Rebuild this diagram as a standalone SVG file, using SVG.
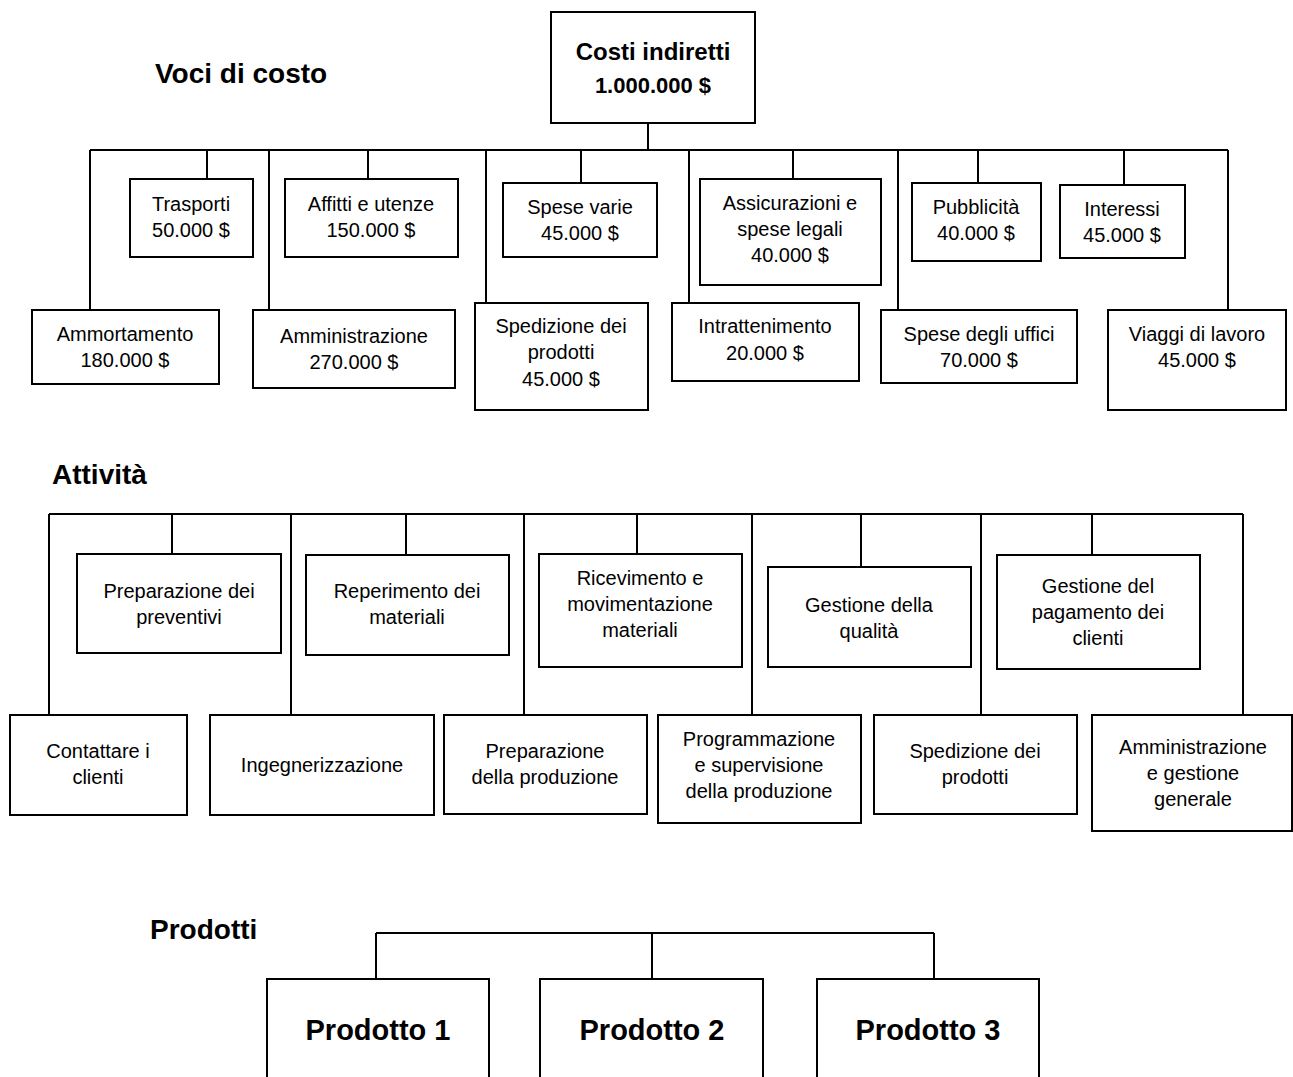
<svg xmlns="http://www.w3.org/2000/svg" width="1293" height="1077" viewBox="0 0 1293 1077">
<style>
.bg{fill:#fff}
.box{fill:#fff;stroke:#000;stroke-width:2}
.ln{fill:none;stroke:#000;stroke-width:2}
text{font-family:"Liberation Sans",Arial,sans-serif;fill:#000}
.t{font-size:20px;text-anchor:middle}
.h{font-size:28px;font-weight:bold}
.b{font-weight:bold;text-anchor:middle}
</style>
<rect class="bg" x="0" y="0" width="1293" height="1077"/>
<g id="connectors">
<path class="ln" d="M648 123V150M90 150H1228M90 150V310M207 150V179M269 150V310M368 150V179M486 150V303M581 150V183M689 150V303M793 150V179M898 150V310M978 150V183M1124 150V185M1228 150V310"/>
<path class="ln" d="M49 514H1243M49 514V715M172 514V554M291 514V715M406 514V555M524 514V715M637 514V554M752 514V715M861 514V567M981 514V715M1092 514V555M1243 514V715"/>
<path class="ln" d="M376 933H934M376 933V979M652 933V979M934 933V979"/>
</g>
<g id="titles">
<text class="h" x="155" y="83">Voci di costo</text>
<text class="h" x="52" y="484" font-size="30">Attività</text>
<text class="h" x="150" y="939" font-size="29">Prodotti</text>
</g>
<g id="costi-indiretti"><rect class="box" x="551" y="12" width="204" height="111"/><text class="b" x="653" y="60" font-size="24">Costi indiretti</text><text class="b" x="653" y="93" font-size="22">1.000.000 $</text></g>
<g id="trasporti"><rect class="box" x="130" y="179" width="123" height="78"/><text class="t" x="191" y="211">Trasporti</text><text class="t" x="191" y="237">50.000 $</text></g>
<g id="affitti"><rect class="box" x="285" y="179" width="173" height="78"/><text class="t" x="371" y="211">Affitti e utenze</text><text class="t" x="371" y="237">150.000 $</text></g>
<g id="spese-varie"><rect class="box" x="503" y="183" width="154" height="74"/><text class="t" x="580" y="214">Spese varie</text><text class="t" x="580" y="240">45.000 $</text></g>
<g id="assicurazioni"><rect class="box" x="700" y="179" width="181" height="106"/><text class="t" x="790" y="210">Assicurazioni e</text><text class="t" x="790" y="236">spese legali</text><text class="t" x="790" y="262">40.000 $</text></g>
<g id="pubblicita"><rect class="box" x="912" y="183" width="129" height="78"/><text class="t" x="976" y="214">Pubblicità</text><text class="t" x="976" y="240">40.000 $</text></g>
<g id="interessi"><rect class="box" x="1060" y="185" width="125" height="73"/><text class="t" x="1122" y="216">Interessi</text><text class="t" x="1122" y="242">45.000 $</text></g>
<g id="ammortamento"><rect class="box" x="32" y="310" width="187" height="74"/><text class="t" x="125" y="341">Ammortamento</text><text class="t" x="125" y="367">180.000 $</text></g>
<g id="amministrazione-costo"><rect class="box" x="253" y="310" width="202" height="78"/><text class="t" x="354" y="343">Amministrazione</text><text class="t" x="354" y="369">270.000 $</text></g>
<g id="spedizione-costo"><rect class="box" x="475" y="303" width="173" height="107"/><text class="t" x="561" y="333">Spedizione dei</text><text class="t" x="561" y="359">prodotti</text><text class="t" x="561" y="386">45.000 $</text></g>
<g id="intrattenimento"><rect class="box" x="672" y="303" width="187" height="78"/><text class="t" x="765" y="333">Intrattenimento</text><text class="t" x="765" y="360">20.000 $</text></g>
<g id="spese-uffici"><rect class="box" x="881" y="310" width="196" height="73"/><text class="t" x="979" y="341">Spese degli uffici</text><text class="t" x="979" y="367">70.000 $</text></g>
<g id="viaggi"><rect class="box" x="1108" y="310" width="178" height="100"/><text class="t" x="1197" y="341">Viaggi di lavoro</text><text class="t" x="1197" y="367">45.000 $</text></g>
<g id="preventivi"><rect class="box" x="77" y="554" width="204" height="99"/><text class="t" x="179" y="598">Preparazione dei</text><text class="t" x="179" y="624">preventivi</text></g>
<g id="reperimento"><rect class="box" x="306" y="555" width="203" height="100"/><text class="t" x="407" y="598">Reperimento dei</text><text class="t" x="407" y="624">materiali</text></g>
<g id="ricevimento"><rect class="box" x="539" y="554" width="203" height="113"/><text class="t" x="640" y="585">Ricevimento e</text><text class="t" x="640" y="611">movimentazione</text><text class="t" x="640" y="637">materiali</text></g>
<g id="qualita"><rect class="box" x="768" y="567" width="203" height="100"/><text class="t" x="869" y="612">Gestione della</text><text class="t" x="869" y="638">qualità</text></g>
<g id="pagamento"><rect class="box" x="997" y="555" width="203" height="114"/><text class="t" x="1098" y="593">Gestione del</text><text class="t" x="1098" y="619">pagamento dei</text><text class="t" x="1098" y="645">clienti</text></g>
<g id="contattare"><rect class="box" x="10" y="715" width="177" height="100"/><text class="t" x="98" y="758">Contattare i</text><text class="t" x="98" y="784">clienti</text></g>
<g id="ingegnerizzazione"><rect class="box" x="210" y="715" width="224" height="100"/><text class="t" x="322" y="772">Ingegnerizzazione</text></g>
<g id="prep-produzione"><rect class="box" x="444" y="715" width="203" height="99"/><text class="t" x="545" y="758">Preparazione</text><text class="t" x="545" y="784">della produzione</text></g>
<g id="programmazione"><rect class="box" x="658" y="715" width="203" height="108"/><text class="t" x="759" y="746">Programmazione</text><text class="t" x="759" y="772">e supervisione</text><text class="t" x="759" y="798">della produzione</text></g>
<g id="spedizione-attivita"><rect class="box" x="874" y="715" width="203" height="99"/><text class="t" x="975" y="758">Spedizione dei</text><text class="t" x="975" y="784">prodotti</text></g>
<g id="amministrazione-attivita"><rect class="box" x="1092" y="715" width="200" height="116"/><text class="t" x="1193" y="754">Amministrazione</text><text class="t" x="1193" y="780">e gestione</text><text class="t" x="1193" y="806">generale</text></g>
<g id="prodotto1"><rect class="box" x="267" y="979" width="222" height="110"/><text class="b" x="378" y="1040" font-size="29">Prodotto 1</text></g>
<g id="prodotto2"><rect class="box" x="540" y="979" width="223" height="110"/><text class="b" x="652" y="1040" font-size="29">Prodotto 2</text></g>
<g id="prodotto3"><rect class="box" x="817" y="979" width="222" height="110"/><text class="b" x="928" y="1040" font-size="29">Prodotto 3</text></g>
</svg>
